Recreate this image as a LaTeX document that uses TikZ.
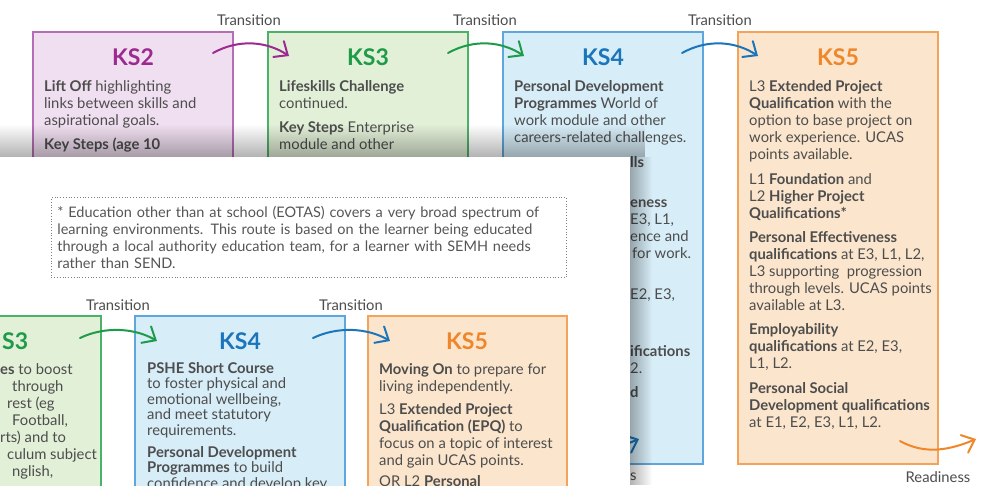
\documentclass[tikz,border=0pt]{standalone}
\usepackage{fontspec}
\setmainfont{Lato}
\usetikzlibrary{arrows.meta,fadings}

\definecolor{txt}{HTML}{4D4D4D}
\definecolor{notetxt}{HTML}{555555}
\definecolor{kstwo}{HTML}{9C2A8F}
\definecolor{kstwofill}{HTML}{F0DFF0}
\definecolor{kstwoline}{HTML}{B56DB5}
\definecolor{ksthree}{HTML}{1E9B48}
\definecolor{ksthreefill}{HTML}{E3F0D8}
\definecolor{ksthreeline}{HTML}{4DB069}
\definecolor{ksfour}{HTML}{1B75BB}
\definecolor{ksfourfill}{HTML}{D7EDF7}
\definecolor{ksfourline}{HTML}{5EA6DB}
\definecolor{ksfive}{HTML}{F0862A}
\definecolor{ksfivefill}{HTML}{FBE6CD}
\definecolor{ksfiveline}{HTML}{F3A45A}

\tikzfading[name=shadeup, top color=transparent!100, bottom color=transparent!0]
\tikzfading[name=shaderight, left color=transparent!0, right color=transparent!100]

\tikzset{
  ksbox/.style={draw=#1line, fill=#1fill, line width=1.3pt},
  kstitle/.style={inner sep=0pt, text=#1, font=\fontsize{23}{23}\selectfont\bfseries},
  kstext/.style={anchor=north west, inner sep=0pt, align=left, text=txt,
    font=\fontsize{14.8}{17}\selectfont},
  trans/.style={inner sep=0pt, text=txt, font=\fontsize{14.8}{15}\selectfont},
  flow/.style={draw=#1, line width=2pt, line cap=round,
    -{Straight Barb[length=11pt,width=19pt,line cap=round]}}
}

\begin{document}
\begin{tikzpicture}[x=1pt,y=-1pt]
\useasboundingbox (0,0) rectangle (992,485);
\fill[white] (0,0) rectangle (992,485);

% back page
\draw[ksbox=kstwo] (33,32) rectangle (233,464);
\draw[ksbox=ksthree] (268,32) rectangle (468,464);
\draw[ksbox=ksfour] (503,32) rectangle (703,464);
\draw[ksbox=ksfive] (738,32) rectangle (938,464);

\node (bgtitletwo) [kstitle=kstwo] at (133,57) {KS2};
\node (bgtitlethree) [kstitle=ksthree] at (368,57) {KS3};
\node (bgtitlefour) [kstitle=ksfour] at (603,57) {KS4};
\node (bgtitlefive) [kstitle=ksfive] at (838,57) {KS5};

\node (bgtrone) [trans] at (249,20) {Transition};
\node (bgtrtwo) [trans] at (485,20) {Transition};
\node (bgtrthree) [trans] at (720,20) {Transition};

\draw[flow=kstwo] (213,53) .. controls (240,38) and (268,42) .. (289,56);
\draw[flow=ksthree] (448,53) .. controls (475,38) and (503,42) .. (524,56);
\draw[flow=ksfour] (682,53) .. controls (709,38) and (737,42) .. (758,56);
\draw[flow=ksfour] (563,441) .. controls (588,455) and (613,450) .. (639,439);
\draw[flow=ksfive] (900,441) .. controls (925,455) and (950,450) .. (976,439);
\node (bgready) [trans] at (938,477) {Readiness};
\node (bgreadyend) [trans, anchor=west] at (630,477) {s};

\node (bgtexttwo) [kstext] at (44,80) {\textbf{Lift Off} highlighting\\
  links between skills and\\
  aspirational goals.\\[7pt]
  \textbf{Key Steps (age 10}};
\node (bgtextthree) [kstext] at (279,80) {\textbf{Lifeskills Challenge}\\
  continued.\\[7pt]
  \textbf{Key Steps} Enterprise\\
  module and other};
\node (bgtextfour) [kstext] at (514,80) {\textbf{Personal Development}\\
  \textbf{Programmes} World of\\
  work module and other\\
  careers-related challenges.};
\node (bgtextfourcut) [kstext] at (630,156) {\textbf{lls}\\
  \\[6pt]
  \textbf{eness}\\
  E3, L1,\\
  ence and\\
  \hspace*{2pt}for work.\\[24pt]
  E2, E3,\\[40pt]
  \textbf{ifications}\\
  2.\\[7pt]
  \textbf{d}};
\node (bgtextfive) [kstext] at (749,80) {L3 \textbf{Extended Project}\\
  \textbf{Qualification} with the\\
  option to base project on\\
  work experience. UCAS\\
  points available.\\[8pt]
  L1 \textbf{Foundation} and\\
  L2 \textbf{Higher Project}\\
  \textbf{Qualifications*}\\[7pt]
  \textbf{Personal Effectiveness}\\
  \textbf{qualifications} at E3, L1, L2,\\
  L3 supporting\ \ progression\\
  through levels. UCAS points\\
  available at L3.\\[7pt]
  \textbf{Employability}\\
  \textbf{qualifications} at E2, E3,\\
  L1, L2.\\[8pt]
  \textbf{Personal Social}\\
  \textbf{Development qualifications}\\
  at E1, E2, E3, L1, L2.};

% shadow of the front page
\fill[black, opacity=.3, path fading=shadeup] (0,124) rectangle (646,157);
\fill[black, opacity=.3, path fading=shaderight] (630,157) rectangle (652,485);

% front page
\fill[white] (0,157) rectangle (630,490);

\node (note) [draw=gray, dotted, line width=.8pt, anchor=north west, inner sep=6pt,
  minimum height=80pt, text width=503pt, align=left, text=notetxt,
  font=\fontsize{14.5}{17}\selectfont] at (51,197)
  {* Education other than at school (EOTAS) covers a very broad spectrum of\\
   learning environments. This route is based on the learner being educated\\
   through a local authority education team, for a learner with SEMH needs\\
   rather than SEND.};

\node (fgtrone) [trans] at (118,305) {Transition};
\node (fgtrtwo) [trans] at (351,305) {Transition};

\draw[ksbox=ksthree] (-5,316) rectangle (101,495);
\draw[ksbox=ksfour] (135,316) rectangle (345,495);
\draw[ksbox=ksfive] (368,316) rectangle (567,495);

\node (fgtitlethree) [kstitle=ksthree, anchor=west] at (2,341) {S3};
\node (fgtitlefour) [kstitle=ksfour] at (240,341) {KS4};
\node (fgtitlefive) [kstitle=ksfive] at (467,341) {KS5};

\draw[flow=ksthree] (80,338) .. controls (105,326) and (135,328) .. (157,341);
\draw[flow=ksfour] (313,338) .. controls (338,326) and (368,328) .. (390,341);

\node (fgtextthree) [kstext] at (0,363) {\textbf{es} to boost\\
  \hspace*{12pt}through\\
  \hspace*{7pt}rest (eg\\
  \hspace*{12pt}Football,\\
  \hspace*{0pt}rts) and to\\
  \hspace*{7pt}culum subject\\
  \hspace*{12pt}nglish,};
\node (fgtextfour) [kstext, font=\fontsize{14.8}{15.5}\selectfont] at (147,362)
  {\textbf{PSHE Short Course}\\
  to foster physical and\\
  emotional wellbeing,\\
  and meet statutory\\
  requirements.\\[6.5pt]
  \textbf{Personal Development}\\
  \textbf{Programmes} to build\\
  confidence and develop key};
\node (fgtextfive) [kstext] at (379,363) {\textbf{Moving On} to prepare for\\
  living independently.\\[6pt]
  L3 \textbf{Extended Project}\\
  \textbf{Qualification (EPQ)} to\\
  focus on a topic of interest\\
  and gain UCAS points.\\[4pt]
  OR L2 \textbf{Personal}};
\end{tikzpicture}
\end{document}
